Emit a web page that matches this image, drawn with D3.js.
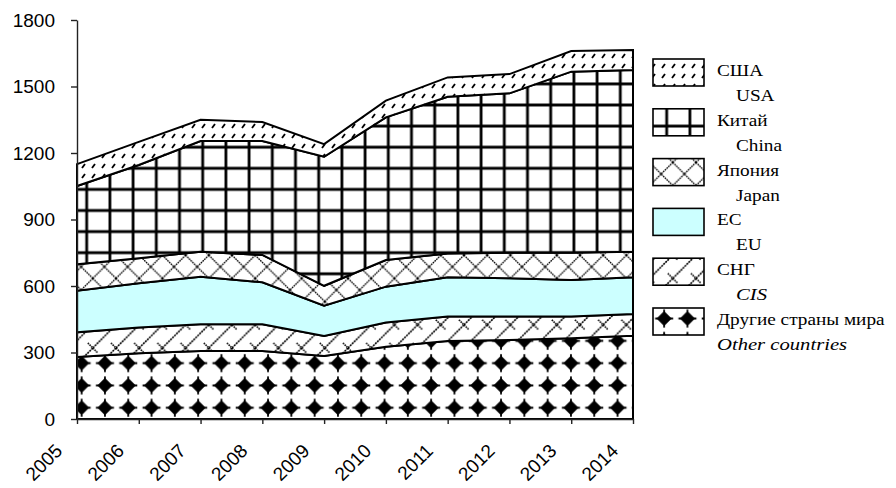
<!DOCTYPE html>
<html>
<head>
<meta charset="utf-8">
<script src="https://cdn.jsdelivr.net/npm/d3@7/dist/d3.min.js"></script>
<style>
  html, body { margin: 0; padding: 0; background: #fff; }
  svg { display: block; }
  .serif { font-family: "Liberation Serif", "Times New Roman", serif; }
  .sans { font-family: "Liberation Sans", Arial, sans-serif; }
</style>
</head>
<body>
<svg id="chart" width="896" height="488"></svg>
<script>
// ---- data ----
const years = ["2005","2006","2007","2008","2009","2010","2011","2012","2013","2014"];
const other = [280, 297, 307, 307, 284, 326, 352, 356, 364, 376];
const cis   = [111, 116, 120, 120,  90, 109, 110, 106,  98,  98];
const eu    = [188, 199, 215, 190, 137, 162, 177, 173, 165, 165];
const japan = [119, 113, 113, 123,  90, 120, 108, 115, 123, 116];
const china = [353, 421, 499, 514, 582, 644, 707, 719, 817, 819];
const usa   = [ 99, 104,  96,  86,  57,  75,  87,  87,  93,  91];
const yTicks = [0, 300, 600, 900, 1200, 1500, 1800];

const seriesKeys = ["other","cis","eu","japan","china","usa"];
const seriesData = {other, cis, eu, japan, china, usa};
const legendRu = {usa:"США", china:"Китай", japan:"Япония", eu:"ЕС", cis:"СНГ", other:"Другие страны мира"};
const legendEn = {usa:"USA", china:"China", japan:"Japan", eu:"EU", cis:"CIS", other:"Other countries"};
const legendOrder = ["usa","china","japan","eu","cis","other"];

const table = years.map((y, i) => {
  const row = {year: y};
  seriesKeys.forEach(k => row[k] = seriesData[k][i]);
  return row;
});

// ---- layout ----
const svg = d3.select("#chart");
svg.append("rect").attr("width", 896).attr("height", 488).attr("fill", "#fff");

const x = d3.scalePoint().domain(years).range([77, 633]);
const y = d3.scaleLinear().domain([0, 1800]).range([419, 20]);

// ---- patterns ----
const defs = svg.append("defs");
function pat(id, w, h, px, py) {
  const p = defs.append("pattern").attr("id", id)
    .attr("patternUnits", "userSpaceOnUse")
    .attr("width", w).attr("height", h)
    .attr("x", px || 0).attr("y", py || 0);
  p.append("rect").attr("width", w).attr("height", h).attr("fill", "#fff");
  return p;
}
// USA: short diagonal dashes
const pUsa = pat("p-usa", 10, 10, 0, 0);
pUsa.append("path").attr("d", "M2,8 L5,4").attr("stroke", "#000").attr("stroke-width", 1.8);
// China: thick grid (lines centred in tile so they are not clipped)
const cw = 23.2, ch = 21.1;
const pChina = pat("p-china", cw, ch, 86.7 - cw / 2, 168.3 - ch / 2);
pChina.append("path").attr("d", `M${cw/2},0 V${ch} M0,${ch/2} H${cw}`).attr("stroke", "#000").attr("stroke-width", 2.8);
// Japan: diamond lattice of dotted lines
const pJapan = pat("p-japan", 23.2, 23.2, 0, 0);
pJapan.append("path").attr("d", "M0,0 L23.2,23.2 M23.2,0 L0,23.2")
  .attr("stroke", "#000").attr("stroke-width", 1.3).attr("stroke-dasharray", "1.6,0.8");
// CIS: wide upward diagonal with short back ticks
const pCis = pat("p-cis", 23.2, 23.2, 0, 0);
pCis.append("path").attr("d", "M0,23.2 L23.2,0").attr("stroke", "#000").attr("stroke-width", 1.6).attr("stroke-dasharray", "2,0.8");
pCis.append("path").attr("d", "M0,0 L5,5 M18.2,18.2 L23.2,23.2").attr("stroke", "#000").attr("stroke-width", 1.6).attr("stroke-dasharray", "1.6,0.8");
// Other: black diamonds
const pOther = pat("p-other", 23.3, 22.3, 70, 352);
const cx = 11.65, cy = 11.15;
pOther.append("path")
  .attr("d", `M${cx},${cy-7.5} L${cx+7.5},${cy} L${cx},${cy+7.5} L${cx-7.5},${cy} Z`)
  .attr("fill", "#000");
pOther.append("path")
  .attr("d", `M${cx},${cy-9} V${cy+9} M${cx-9},${cy} H${cx+9}`)
  .attr("stroke", "#000").attr("stroke-width", 1.8);

const fills = {
  usa: "url(#p-usa)", china: "url(#p-china)", japan: "url(#p-japan)",
  eu: "#ccffff", cis: "url(#p-cis)", other: "url(#p-other)"
};

// ---- stacked areas ----
const stack = d3.stack().keys(seriesKeys);
const layers = stack(table);
const area = d3.area()
  .x(d => x(d.data.year))
  .y0(d => y(d[0]))
  .y1(d => y(d[1]));

svg.append("g").selectAll("path").data(layers).join("path")
  .attr("d", area)
  .attr("fill", d => fills[d.key])
  .attr("stroke", "#000")
  .attr("stroke-width", 2)
  .attr("stroke-linejoin", "miter");

// ---- axes ----
const yAxis = svg.append("g").attr("transform", "translate(77,0)")
  .call(d3.axisLeft(y).tickValues(yTicks).tickSize(6).tickSizeOuter(0).tickPadding(16).tickFormat(d3.format("d")));
yAxis.attr("font-family", null).attr("font-size", null);
yAxis.select(".domain").attr("stroke", "#222").attr("stroke-width", 1.4);
yAxis.selectAll(".tick line").attr("stroke", "#222").attr("stroke-width", 1.4);
yAxis.selectAll(".tick text")
  .attr("class", "sans")
  .style("font-size", "19px").attr("fill", "#000");

const xAxis = svg.append("g").attr("transform", "translate(0,419)")
  .call(d3.axisBottom(x).tickSize(5).tickSizeOuter(0));
xAxis.attr("font-family", null).attr("font-size", null);
xAxis.select(".domain").attr("stroke", "#222").attr("stroke-width", 1.4);
xAxis.selectAll(".tick line").attr("stroke", "#222").attr("stroke-width", 1.4);
xAxis.selectAll(".tick text")
  .attr("class", "sans")
  .style("font-size", "19px").attr("fill", "#000")
  .attr("x", 0).attr("y", 0).attr("dy", 0)
  .attr("text-anchor", "end")
  .attr("transform", "translate(-14,33) rotate(-45)");

// ---- legend ----
const leg = svg.append("g");
legendOrder.forEach((k, i) => {
  const base = 72 + i * 49.8;
  leg.append("rect")
    .attr("x", 653).attr("y", base - 13).attr("width", 51).attr("height", 27)
    .attr("fill", fills[k]).attr("stroke", "#000").attr("stroke-width", 1.6);
  const isItalic = (k === "cis" || k === "other");
  leg.append("text")
    .attr("class", "serif")
    .attr("transform", `translate(717,${base + 4}) scale(1.1,1)`)
    .style("font-size", "17.5px").attr("fill", "#000")
    .text(legendRu[k]);
  leg.append("text")
    .attr("class", "serif")
    .attr("transform", `translate(${k === "other" ? 717 : 736},${base + 29}) scale(${isItalic ? 1.18 : 1.1},1)`)
    .style("font-size", "17.5px").attr("fill", "#000")
    .style("font-style", isItalic ? "italic" : "normal")
    .text(legendEn[k]);
});
</script>
</body>
</html>
